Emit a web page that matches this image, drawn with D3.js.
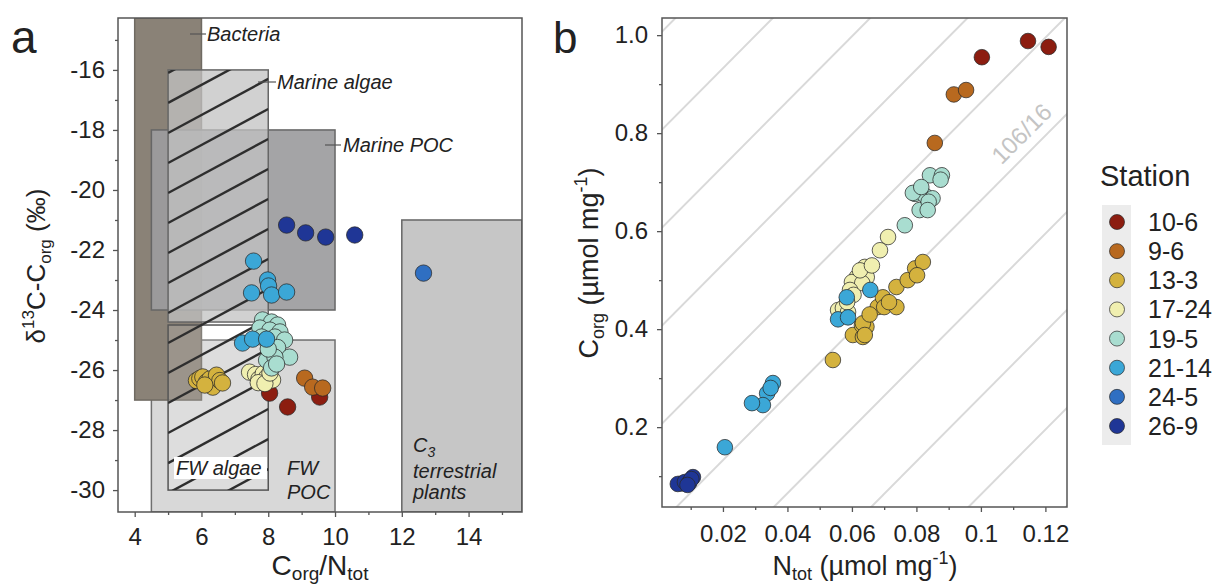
<!DOCTYPE html>
<html>
<head>
<meta charset="utf-8">
<script src="https://cdn.jsdelivr.net/npm/d3@7"></script>
<style>
  body { margin: 0; background: #fff; }
  svg { font-family: Arial, "Liberation Sans", sans-serif; }
</style>
</head>
<body>
<div id="chart"></div>
<script>
// stations, legend order
const stations = ['10-6', '9-6', '13-3', '17-24', '19-5', '21-14', '24-5', '26-9'];
const stationColors = ['#8c1d10', '#b8691f', '#d4b23e', '#f0efb0', '#a9ddd0', '#3ba7d7', '#2f6fc2', '#1f3696'];

// panel a: [C/N, d13C]
const a_10_6 = [[8.04, -26.77], [8.58, -27.23], [9.54, -26.9]];
const a_9_6 = [[9.09, -26.27], [9.33, -26.57], [9.63, -26.6]];
const a_13_3 = [[5.85, -26.35], [5.95, -26.28], [6.04, -26.23], [6.15, -26.4], [6.25, -26.3], [6.34, -26.57],
  [6.45, -26.17], [6.55, -26.35], [6.63, -26.43], [6.1, -26.5]];
const a_17_24 = [[7.44, -26.07], [7.62, -26.15], [7.72, -26.3], [7.85, -26.12], [7.95, -26.25], [8.13, -26.33],
  [7.7, -26.42], [7.9, -26.45], [8.05, -26.1]];
const a_19_5 = [[7.83, -24.33], [8.1, -24.4], [8.28, -24.5], [7.75, -24.6], [8.05, -24.67], [8.35, -24.73],
  [7.8, -24.9], [8.2, -24.9], [8.49, -25.0], [8.28, -25.25], [8.64, -25.57], [7.95, -25.67], [8.2, -25.57],
  [8.1, -25.93], [8.0, -25.3], [8.25, -25.8]];
const a_21_14 = [[7.56, -22.37], [7.98, -23.0], [8.01, -23.2], [7.5, -23.43], [8.1, -23.5], [8.55, -23.4],
  [7.23, -25.1], [7.53, -24.97], [7.95, -24.97]];
const a_24_5 = [[12.65, -22.77]];
const a_26_9 = [[8.55, -21.17], [9.12, -21.43], [9.72, -21.57], [10.59, -21.5]];

// panel a source boxes: name, C/N range, d13C range
const boxNames = ['FW POC', 'Bacteria', 'Marine POC', 'Marine algae', 'FW algae', 'C3 plants'];
const boxX = [[4.5, 10], [4, 6], [4.5, 10], [5, 8], [5, 8], [12, 15.6]];
const boxY = [[-30.73, -25], [-27, -14.27], [-24, -18], [-24.4, -16], [-30, -24.5], [-30.73, -21]];

// hatch lines over the algae boxes: start d13C at C/N = 5, rise over the box
const hatchStarts = d3.range(-31.1, -13, 1);
const hatchRise = 1.8;

// panel b: [Ntot, Corg]
const b_10_6 = [[0.1146, 0.988], [0.121, 0.976], [0.1003, 0.955]];
const b_9_6 = [[0.0916, 0.879], [0.0954, 0.888], [0.0857, 0.78]];
const b_13_3 = [[0.0541, 0.337], [0.0603, 0.388], [0.0634, 0.384], [0.0631, 0.408], [0.0645, 0.405], [0.068, 0.445],
  [0.0634, 0.412], [0.064, 0.388], [0.0696, 0.465], [0.07, 0.445], [0.0738, 0.445], [0.0738, 0.486], [0.0773, 0.5],
  [0.0796, 0.524], [0.082, 0.537], [0.0802, 0.51], [0.0655, 0.43], [0.0715, 0.455]];
const b_17_24 = [[0.0712, 0.588], [0.0687, 0.561], [0.064, 0.527], [0.0615, 0.506], [0.0646, 0.506], [0.06, 0.496],
  [0.0632, 0.494], [0.0594, 0.48], [0.0605, 0.47], [0.0557, 0.439], [0.0572, 0.443], [0.0588, 0.435],
  [0.0625, 0.52], [0.0662, 0.53], [0.0585, 0.455]];
const b_19_5 = [[0.0842, 0.714], [0.0879, 0.714], [0.0796, 0.676], [0.0826, 0.673], [0.085, 0.667], [0.081, 0.643],
  [0.0789, 0.678], [0.0838, 0.66], [0.0835, 0.643], [0.0764, 0.612], [0.0875, 0.705], [0.0815, 0.69]];
const b_21_14 = [[0.0584, 0.465], [0.0657, 0.48], [0.0557, 0.42], [0.0588, 0.424], [0.0355, 0.29], [0.0337, 0.269],
  [0.0324, 0.245], [0.029, 0.249], [0.0206, 0.159], [0.0348, 0.28]];
const b_24_5 = [[0.0072, 0.085]];
const b_26_9 = [[0.006, 0.084], [0.0082, 0.088], [0.0095, 0.086], [0.0107, 0.098], [0.0102, 0.094], [0.009, 0.082]];

// ticks
const aXTicks = [4, 6, 8, 10, 12, 14];
const aXMinor = [5, 7, 9, 11, 13, 15];
const aYTicks = [-30, -28, -26, -24, -22, -20, -18, -16];
const aYMinor = [-29, -27, -25, -23, -21, -19, -17, -15];
const bXTicks = [0.02, 0.04, 0.06, 0.08, 0.1, 0.12];
const bXLabels = ['0.02', '0.04', '0.06', '0.08', '0.1', '0.12'];
const bXMinor = [0.01, 0.03, 0.05, 0.07, 0.09, 0.11];
const bYTicks = [0.2, 0.4, 0.6, 0.8, 1.0];
const bYLabels = ['0.2', '0.4', '0.6', '0.8', '1.0'];
const bYMinor = [0.1, 0.3, 0.5, 0.7, 0.9];

// Redfield ratio lines, offsets in Corg
const redfield = 106 / 16;
const redfieldOffsets = [-1.2, -1.0, -0.8, -0.6, -0.4, -0.2, 0, 0.2, 0.4, 0.6, 0.8, 1.0];

const aSeries = [a_10_6, a_9_6, a_13_3, a_17_24, a_19_5, a_21_14, a_24_5, a_26_9];
const bSeries = [b_10_6, b_9_6, b_13_3, b_17_24, b_19_5, b_21_14, b_24_5, b_26_9];

const width = 1217;
const height = 587;
const tickFont = 24;

const svg = d3.select('#chart').append('svg')
  .attr('width', width)
  .attr('height', height);

const defs = svg.append('defs');

// ---------------- panel a ----------------
const xa = d3.scaleLinear().domain([3.5, 15.6]).range([118, 522]);
const ya = d3.scaleLinear().domain([-30.73, -14.27]).range([512, 18]);

defs.append('clipPath').attr('id', 'clipA')
  .append('rect').attr('x', 118).attr('y', 18).attr('width', 404).attr('height', 494);
defs.append('clipPath').attr('id', 'clipHatch')
  .append('rect').attr('x', xa(5)).attr('y', ya(-16))
  .attr('width', xa(8) - xa(5)).attr('height', ya(-30) - ya(-16));

const ga = svg.append('g');
const boxes = ga.append('g').attr('clip-path', 'url(#clipA)');

const boxStyle = [
  { fill: '#d8d8d8', op: 1, stroke: '#6f6f6f' },
  { fill: '#8a8277', op: 1, stroke: '#6f6a62' },
  { fill: '#9c9c9e', op: 0.92, stroke: '#666' },
  { fill: '#c2c2c2', op: 0.75, stroke: '#666' },
  { fill: '#ffffff', op: 0.15, stroke: '#555' },
  { fill: '#c6c6c6', op: 1, stroke: '#666' }
];

boxes.selectAll('rect.box')
  .data(boxNames)
  .join('rect')
  .attr('class', 'box')
  .attr('x', (d, i) => xa(boxX[i][0]))
  .attr('width', (d, i) => xa(boxX[i][1]) - xa(boxX[i][0]))
  .attr('y', (d, i) => ya(boxY[i][1]))
  .attr('height', (d, i) => ya(boxY[i][0]) - ya(boxY[i][1]))
  .attr('fill', (d, i) => boxStyle[i].fill)
  .attr('fill-opacity', (d, i) => boxStyle[i].op)
  .attr('stroke', (d, i) => boxStyle[i].stroke)
  .attr('stroke-width', 1.5);

boxes.append('g').attr('clip-path', 'url(#clipHatch)')
  .selectAll('line')
  .data(hatchStarts)
  .join('line')
  .attr('x1', xa(5)).attr('y1', d => ya(d))
  .attr('x2', xa(8)).attr('y2', d => ya(d + hatchRise))
  .attr('stroke', '#2e2e2e').attr('stroke-width', 2.4);

// labels in panel a
const lab = ga.append('g').attr('font-style', 'italic').attr('font-size', 20).attr('fill', '#222');
function leader(x1, x2, y) {
  lab.append('line').attr('x1', x1).attr('x2', x2).attr('y1', y).attr('y2', y)
    .attr('stroke', '#555').attr('stroke-width', 1.2);
}
leader(190, 206, 34);
lab.append('text').attr('x', 207).attr('y', 41).text('Bacteria');
leader(258, 276, 82);
lab.append('text').attr('x', 277).attr('y', 89).text('Marine algae');
leader(325, 341, 145);
lab.append('text').attr('x', 343).attr('y', 152).text('Marine POC');

lab.append('rect').attr('x', 174).attr('y', 457).attr('width', 93).attr('height', 22).attr('fill', '#fff');
lab.append('text').attr('x', 176).attr('y', 475).text('FW algae');
lab.append('text').attr('x', 287).attr('y', 475).text('FW');
lab.append('text').attr('x', 287).attr('y', 499).text('POC');
const c3 = lab.append('text').attr('x', 413).attr('y', 452);
c3.append('tspan').text('C');
c3.append('tspan').attr('font-size', 14).attr('dy', 5).text('3');
lab.append('text').attr('x', 413).attr('y', 478).text('terrestrial');
lab.append('text').attr('x', 413).attr('y', 499).text('plants');

// points panel a
const pa = ga.append('g');
aSeries.forEach((s, k) => {
  pa.append('g').selectAll('circle')
    .data(s)
    .join('circle')
    .attr('cx', d => xa(d[0]))
    .attr('cy', d => ya(d[1]))
    .attr('r', 8.2)
    .attr('fill', stationColors[k])
    .attr('stroke', '#2a2a2a')
    .attr('stroke-opacity', 0.75)
    .attr('stroke-width', 1);
});

// frame + axes a
ga.append('rect').attr('x', 118).attr('y', 18).attr('width', 404).attr('height', 494)
  .attr('fill', 'none').attr('stroke', '#555').attr('stroke-width', 1.5);

function styleAxis(g) {
  g.select('.domain').remove();
  g.selectAll('.tick line').attr('stroke', '#555').attr('stroke-width', 1.3);
  g.selectAll('.tick text').attr('font-size', tickFont).attr('fill', '#222')
    .attr('font-family', 'Arial, "Liberation Sans", sans-serif');
}

ga.append('g').attr('transform', 'translate(0,512)')
  .call(d3.axisBottom(xa).tickValues(aXTicks).tickSize(5).tickPadding(11).tickFormat(d3.format('d')))
  .call(styleAxis);
ga.append('g').attr('transform', 'translate(0,512)')
  .call(d3.axisBottom(xa).tickValues(aXMinor).tickSize(3).tickFormat(''))
  .call(styleAxis);
ga.append('g').attr('transform', 'translate(118,0)')
  .call(d3.axisLeft(ya).tickValues(aYTicks).tickSize(5).tickPadding(8).tickFormat(d => String(d)))
  .call(styleAxis);
ga.append('g').attr('transform', 'translate(118,0)')
  .call(d3.axisLeft(ya).tickValues(aYMinor).tickSize(3).tickFormat(''))
  .call(styleAxis);

svg.append('text').attr('x', 11).attr('y', 53).attr('font-size', 46).attr('fill', '#222').text('a');

const ayl = svg.append('text')
  .attr('transform', 'translate(45,266) rotate(-90)')
  .attr('text-anchor', 'middle')
  .attr('font-size', 26).attr('fill', '#222');
ayl.append('tspan').text('\u03b4');
ayl.append('tspan').attr('font-size', 17).attr('dy', -11).text('13');
ayl.append('tspan').attr('dy', 11).text('C-C');
ayl.append('tspan').attr('font-size', 17).attr('dy', 6).text('org');
ayl.append('tspan').attr('dy', -6).text(' (\u2030)');

const axl = svg.append('text')
  .attr('x', 320).attr('y', 575)
  .attr('text-anchor', 'middle')
  .attr('font-size', 28).attr('fill', '#222');
axl.append('tspan').text('C');
axl.append('tspan').attr('font-size', 19).attr('dy', 5).text('org');
axl.append('tspan').attr('dy', -5).text('/N');
axl.append('tspan').attr('font-size', 19).attr('dy', 5).text('tot');

// ---------------- panel b ----------------
const xb = d3.scaleLinear().domain([0.0011, 0.1267]).range([662, 1067]);
const yb = d3.scaleLinear().domain([0.037, 1.035]).range([507, 18]);

defs.append('clipPath').attr('id', 'clipB')
  .append('rect').attr('x', 662).attr('y', 18).attr('width', 405).attr('height', 489);

const gb = svg.append('g');
const lines = gb.append('g').attr('clip-path', 'url(#clipB)');
lines.selectAll('line')
  .data(redfieldOffsets)
  .join('line')
  .attr('x1', xb(0)).attr('y1', d => yb(d))
  .attr('x2', xb(0.14)).attr('y2', d => yb(d + redfield * 0.14))
  .attr('stroke', '#d9d9d9').attr('stroke-width', 2);

const labN = 0.1166;
gb.append('text')
  .attr('transform', `translate(${xb(labN)},${yb(redfield * labN)}) rotate(-45)`)
  .attr('text-anchor', 'middle')
  .attr('dy', -10)
  .attr('font-size', 24)
  .attr('fill', '#c4c4c4')
  .text('106/16');

const pb = gb.append('g');
bSeries.forEach((s, k) => {
  pb.append('g').selectAll('circle')
    .data(s)
    .join('circle')
    .attr('cx', d => xb(d[0]))
    .attr('cy', d => yb(d[1]))
    .attr('r', 7.8)
    .attr('fill', stationColors[k])
    .attr('stroke', '#2a2a2a')
    .attr('stroke-opacity', 0.75)
    .attr('stroke-width', 1);
});

gb.append('rect').attr('x', 662).attr('y', 18).attr('width', 405).attr('height', 489)
  .attr('fill', 'none').attr('stroke', '#555').attr('stroke-width', 1.5);

gb.append('g').attr('transform', 'translate(0,507)')
  .call(d3.axisBottom(xb).tickValues(bXTicks).tickSize(5).tickPadding(13).tickFormat((d, i) => bXLabels[i]))
  .call(styleAxis);
gb.append('g').attr('transform', 'translate(0,507)')
  .call(d3.axisBottom(xb).tickValues(bXMinor).tickSize(3).tickFormat(''))
  .call(styleAxis);
gb.append('g').attr('transform', 'translate(662,0)')
  .call(d3.axisLeft(yb).tickValues(bYTicks).tickSize(5).tickPadding(9).tickFormat((d, i) => bYLabels[i]))
  .call(styleAxis);
gb.append('g').attr('transform', 'translate(662,0)')
  .call(d3.axisLeft(yb).tickValues(bYMinor).tickSize(3).tickFormat(''))
  .call(styleAxis);

svg.append('text').attr('x', 553).attr('y', 53).attr('font-size', 44).attr('fill', '#222').text('b');

const byl = svg.append('text')
  .attr('transform', 'translate(598,263) rotate(-90)')
  .attr('text-anchor', 'middle')
  .attr('font-size', 27).attr('fill', '#222');
byl.append('tspan').text('C');
byl.append('tspan').attr('font-size', 18).attr('dy', 6).text('org');
byl.append('tspan').attr('dy', -6).text(' (\u00b5mol mg');
byl.append('tspan').attr('font-size', 18).attr('dy', -11).text('-1');
byl.append('tspan').attr('dy', 11).text(')');

const bxl = svg.append('text')
  .attr('x', 865).attr('y', 575)
  .attr('text-anchor', 'middle')
  .attr('font-size', 27).attr('fill', '#222');
bxl.append('tspan').text('N');
bxl.append('tspan').attr('font-size', 18).attr('dy', 5).text('tot');
bxl.append('tspan').attr('dy', -5).text(' (\u00b5mol mg');
bxl.append('tspan').attr('font-size', 18).attr('dy', -11).text('-1');
bxl.append('tspan').attr('dy', 11).text(')');

// ---------------- legend ----------------
const leg = svg.append('g');
leg.append('text').attr('x', 1100).attr('y', 186).attr('font-size', 29).attr('fill', '#222').text('Station');
const ly = d3.scalePoint().domain(stations).range([222, 426]);
leg.append('rect').attr('x', 1102).attr('y', 205).attr('width', 29).attr('height', 240).attr('fill', '#ececec');
leg.selectAll('circle')
  .data(stations)
  .join('circle')
  .attr('cx', 1117).attr('cy', d => ly(d)).attr('r', 7.5)
  .attr('fill', (d, i) => stationColors[i])
  .attr('stroke', '#2a2a2a').attr('stroke-opacity', 0.7).attr('stroke-width', 1);
leg.selectAll('text.lab')
  .data(stations)
  .join('text')
  .attr('class', 'lab')
  .attr('x', 1148).attr('y', d => ly(d) + 9)
  .attr('font-size', 25).attr('fill', '#222')
  .text(d => d);
</script>
</body>
</html>
